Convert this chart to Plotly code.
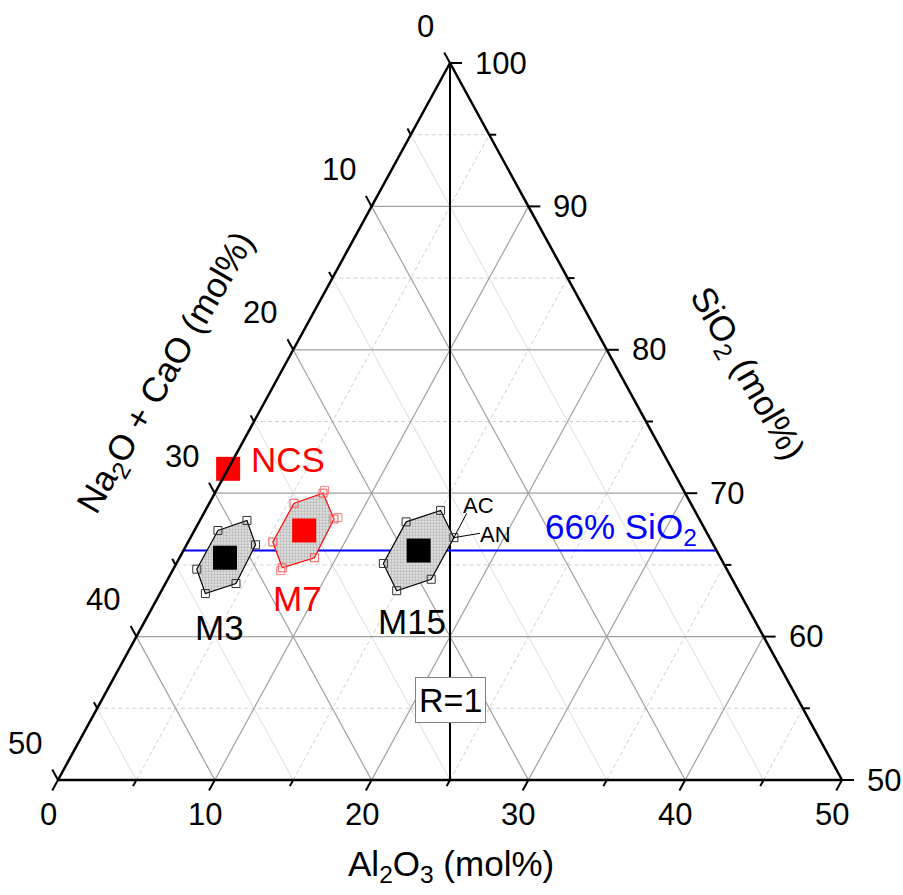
import plotly.graph_objects as go

# ---------------- data (mol%) ----------------
point_names = ["NCS", "M3", "M7", "M15"]
point_sio2 = [71.7, 65.5, 67.4, 66.0]
point_al2o3 = [0.0, 2.9, 7.0, 15.0]
point_colors = ["#ff0000", "#000000", "#ff0000", "#000000"]

m3_sio2 = [67.4, 68.1, 66.4, 63.7, 63.0, 64.7]
m3_al2o3 = [1.5, 3.0, 4.4, 4.5, 2.9, 1.5]
m7_sio2 = [69.3, 70.0, 68.2, 65.5, 64.8, 66.6]
m7_al2o3 = [5.4, 6.9, 8.5, 8.6, 6.9, 5.4]
m7_extra_sio2 = [70.2, 68.3, 64.6]
m7_extra_al2o3 = [6.9, 8.7, 6.9]
m15_sio2 = [68.0, 68.8, 66.9, 64.0, 63.2, 65.1]
m15_al2o3 = [13.2, 15.0, 16.8, 16.8, 15.0, 13.2]

sio2_ref = 66.0
left_ticks = [0, 10, 20, 30, 40, 50]      # Na2O + CaO
right_ticks = [100, 90, 80, 70, 60, 50]   # SiO2
bottom_ticks = [0, 10, 20, 30, 40, 50]    # Al2O3

# ---------------- geometry helpers ----------------
SX = 784 / 50.0   # px per unit horizontally
SY = 717 / 50.0   # px per unit vertically
X0, Y0 = 58, 780
W, H = 903, 895
FONT = "Arial, Liberation Sans, sans-serif"


def tx(a, b):
    """SiO2 = a, Al2O3 = b -> plot coords"""
    return b + (a - 50) / 2.0, a - 50


def px(X, Y):
    return X0 + X * SX, Y0 - Y * SY


def dp(dx, dy):
    return dx / SX, -dy / SY


def P(pxv, pyv):
    return (pxv - X0) / SX, (Y0 - pyv) / SY


fig = go.Figure()


def add_lines(segs, color, width, dash="solid"):
    xs, ys = [], []
    for (a1, b1), (a2, b2) in segs:
        x1, y1 = tx(a1, b1)
        x2, y2 = tx(a2, b2)
        xs += [x1, x2, None]
        ys += [y1, y2, None]
    fig.add_trace(go.Scatter(x=xs, y=ys, mode="lines", hoverinfo="skip",
                             line=dict(color=color, width=width, dash=dash),
                             showlegend=False))


# grid
maj = [10, 20, 30, 40]
mino = [5, 15, 25, 35, 45]
add_lines([((50 + v, 0), (50 + v, 50 - v)) for v in mino], "#d0d0d0", 1, "4px,3px")
add_lines([((50, v), (100 - v, v)) for v in mino], "#d0d0d0", 1, "4px,3px")
add_lines([((100 - v, 0), (50, 50 - v)) for v in mino], "#dddddd", 1)
add_lines([((50 + v, 0), (50 + v, 50 - v)) for v in maj], "#a0a0a0", 1.2)
add_lines([((50, v), (100 - v, v)) for v in maj], "#a0a0a0", 1.2)
add_lines([((100 - v, 0), (50, 50 - v)) for v in maj], "#a0a0a0", 1.2)

# R=1 line (Al2O3 = Na2O+CaO)
add_lines([((100, 0), (50, 25))], "#000000", 2)

# 66% SiO2 line
xs1, ys1 = tx(sio2_ref, 0)
xs2, ys2 = tx(sio2_ref, 100 - sio2_ref)
fig.add_trace(go.Scatter(x=[xs1, xs2], y=[ys1, ys2], mode="lines",
                         line=dict(color="#0000ff", width=2), showlegend=False,
                         hoverinfo="skip"))


def hexagon(sio2, al2o3, color, mcolor):
    xy = [tx(a, b) for a, b in zip(sio2, al2o3)]
    xs = [p[0] for p in xy] + [xy[0][0]]
    ys = [p[1] for p in xy] + [xy[0][1]]
    fig.add_trace(go.Scatter(x=xs, y=ys, mode="lines", fill="toself",
                             fillcolor="#e2e2e2",
                             fillpattern=dict(shape=".", fgcolor="#8c8c8c",
                                              bgcolor="#e2e2e2", size=3,
                                              solidity=0.45),
                             line=dict(color=color, width=1.2),
                             showlegend=False, hoverinfo="skip"))
    fig.add_trace(go.Scatter(x=xs[:-1], y=ys[:-1], mode="markers",
                             marker=dict(symbol="square-open", size=8,
                                         color=mcolor, line=dict(width=1)),
                             showlegend=False, hoverinfo="skip"))


hexagon(m3_sio2, m3_al2o3, "#000000", "#333333")
hexagon(m7_sio2, m7_al2o3, "#ff0000", "#ff5555")
hexagon(m15_sio2, m15_al2o3, "#000000", "#333333")
exy = [tx(a, b) for a, b in zip(m7_extra_sio2, m7_extra_al2o3)]
fig.add_trace(go.Scatter(x=[p[0] for p in exy], y=[p[1] for p in exy], mode="markers",
                         marker=dict(symbol="square-open", size=8, color="#ff8080",
                                     line=dict(width=1)),
                         showlegend=False, hoverinfo="skip"))

# AC / AN leader lines to the R=1 vertex of M15
vx, vy = tx(m15_sio2[2], m15_al2o3[2])
for (lx, ly) in [(466.7, 513.3), (480.0, 533.3)]:
    qx, qy = P(lx, ly)
    fig.add_trace(go.Scatter(x=[qx, vx], y=[qy, vy], mode="lines",
                             line=dict(color="#000000", width=1),
                             showlegend=False, hoverinfo="skip"))

# main points
pxy = [tx(a, b) for a, b in zip(point_sio2, point_al2o3)]
fig.add_trace(go.Scatter(x=[p[0] for p in pxy], y=[p[1] for p in pxy], mode="markers",
                         marker=dict(symbol="square", size=24, color=point_colors,
                                     line=dict(width=0)),
                         showlegend=False, hoverinfo="skip", cliponaxis=False))

# triangle frame
add_lines([((100, 0), (50, 0)), ((100, 0), (50, 50)), ((50, 0), (50, 50))], "#000000", 2.5)

# ticks
ux_l, uy_l = -0.4797, -0.8774
ux_b, uy_b = -0.4797, 0.8774
tick_x, tick_y = [], []


def add_tick(a, b, ux, uy, L):
    x, y = tx(a, b)
    dx, dy = dp(ux * L, uy * L)
    tick_x.extend([x, x + dx, None])
    tick_y.extend([y, y + dy, None])


for v in range(0, 51, 5):
    L = 12 if v % 10 == 0 else 7
    add_tick(100 - v, 0, ux_l, uy_l, L)
    add_tick(50 + v, 50 - v, 1, 0, L)
    add_tick(50, v, ux_b, uy_b, L)
fig.add_trace(go.Scatter(x=tick_x, y=tick_y, mode="lines",
                         line=dict(color="#000000", width=2),
                         showlegend=False, hoverinfo="skip"))

ann = []
tf = dict(family=FONT, size=31, color="#000000")
for v in left_ticks:
    x, y = tx(100 - v, 0)
    bx, by = px(x, y)
    ax_, ay_ = P(bx - 14, by - 37)
    ann.append(dict(x=ax_, y=ay_, text=str(v), xanchor="right", yanchor="middle",
                    showarrow=False, font=tf))
for v in right_ticks:
    x, y = tx(v, 100 - v)
    bx, by = px(x, y)
    ax_, ay_ = P(bx + 23, by)
    ann.append(dict(x=ax_, y=ay_, text=str(v), xanchor="left", yanchor="middle",
                    showarrow=False, font=tf))
for v in bottom_ticks:
    x, y = tx(50, v)
    bx, by = px(x, y)
    ax_, ay_ = P(bx - 10, by + 34)
    ann.append(dict(x=ax_, y=ay_, text=str(v), xanchor="center", yanchor="middle",
                    showarrow=False, font=tf))


def add_text(pxv, pyv, text, size=32, color="#000000", angle=0, **kw):
    x, y = P(pxv, pyv)
    d = dict(x=x, y=y, text=text, showarrow=False, textangle=angle,
             font=dict(family=FONT, size=size, color=color),
             xanchor="center", yanchor="middle")
    d.update(kw)
    ann.append(d)


add_text(451, 866, "Al<sub>2</sub>O<sub>3</sub> (mol%)", 35)
add_text(167, 373, "Na<sub>2</sub>O + CaO (mol%)", 35, angle=-60)
add_text(746, 374, "SiO<sub>2</sub> (mol%)", 35, angle=60)

add_text(287.5, 459, "NCS", 35, "#ff0000")
add_text(297.5, 598, "M7", 35, "#ff0000")
add_text(219, 627, "M3", 35)
add_text(411.5, 621, "M15", 35)
add_text(621, 529, "66% SiO<sub>2</sub>", 35, "#0000ff")
add_text(478, 505, "AC", 22)
add_text(495, 534, "AN", 22)
add_text(450.8, 699.7, "R=1", 34, bgcolor="#ffffff", bordercolor="#808080",
         borderwidth=1, borderpad=3)

fig.update_layout(
    width=W, height=H,
    margin=dict(l=0, r=0, t=0, b=0),
    paper_bgcolor="#ffffff", plot_bgcolor="#ffffff",
    showlegend=False,
    xaxis=dict(range=[-X0 / SX, (W - X0) / SX], visible=False, fixedrange=True),
    yaxis=dict(range=[-(H - Y0) / SY, Y0 / SY], visible=False, fixedrange=True),
    annotations=ann,
)

fig.write_html("out.html", config={"displayModeBar": False},
               post_script="document.body.style.margin='0';document.body.style.overflow='hidden';")
